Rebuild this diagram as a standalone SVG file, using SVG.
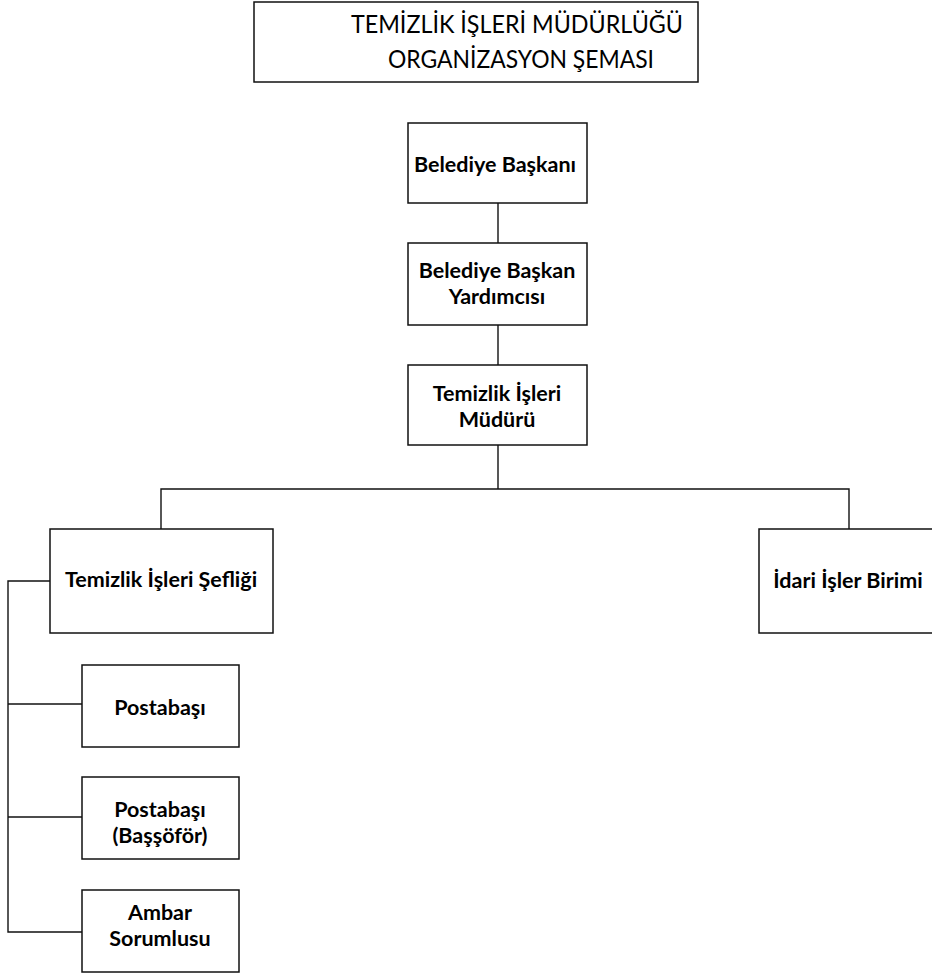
<svg xmlns="http://www.w3.org/2000/svg" width="932" height="978" viewBox="0 0 932 978">
<style>
.box{fill:#fff;stroke:#111;stroke-width:1.5}
.t{font-family:Lato,"Open Sans","Liberation Sans",sans-serif;font-weight:700;font-size:21.5px;fill:#000;text-anchor:middle}
.title{font-family:Lato,"Open Sans","Liberation Sans",sans-serif;font-weight:400;font-size:25px;fill:#000}
.c{fill:none;stroke:#111;stroke-width:1.4}
</style>
<rect width="932" height="978" fill="#fff"/>
<g id="title">
<rect class="box" x="254" y="2" width="444" height="80"/>
<text class="title" x="351" y="33" textLength="332" lengthAdjust="spacingAndGlyphs">TEMİZLİK İŞLERİ MÜDÜRLÜĞÜ</text>
<text class="title" x="388" y="68" textLength="266" lengthAdjust="spacingAndGlyphs">ORGANİZASYON ŞEMASI</text>
</g>
<g id="connectors">
<line class="c" x1="498" y1="203" x2="498" y2="243"/>
<line class="c" x1="498" y1="325" x2="498" y2="365"/>
<polyline class="c" points="161,529 161,489 849,489 849,529"/>
<line class="c" x1="498" y1="445" x2="498" y2="489"/>
<polyline class="c" points="50,581 8,581 8,932 82,932"/>
<line class="c" x1="8" y1="704" x2="82" y2="704"/>
<line class="c" x1="8" y1="817" x2="82" y2="817"/>
</g>
<g id="baskan">
<rect class="box" x="408" y="123" width="179" height="80"/>
<text class="t" x="495" y="172">Belediye Başkanı</text>
</g>
<g id="yardimci">
<rect class="box" x="408" y="243" width="179" height="82"/>
<text class="t" x="497" y="278">Belediye Başkan</text>
<text class="t" x="497" y="304">Yardımcısı</text>
</g>
<g id="mudur">
<rect class="box" x="408" y="365" width="179" height="80"/>
<text class="t" x="497" y="401">Temizlik İşleri</text>
<text class="t" x="497" y="427">Müdürü</text>
</g>
<g id="seflik">
<rect class="box" x="50" y="529" width="223" height="104"/>
<text class="t" x="161" y="587">Temizlik İşleri Şefliği</text>
</g>
<g id="idari">
<rect class="box" x="759" y="529" width="200" height="104"/>
<text class="t" x="848" y="588">İdari İşler Birimi</text>
</g>
<g id="postabasi">
<rect class="box" x="82" y="665" width="157" height="82"/>
<text class="t" x="160" y="715">Postabaşı</text>
</g>
<g id="bassofor">
<rect class="box" x="82" y="777" width="157" height="82"/>
<text class="t" x="160" y="817">Postabaşı</text>
<text class="t" x="160" y="843">(Başşöför)</text>
</g>
<g id="ambar">
<rect class="box" x="82" y="890" width="157" height="82"/>
<text class="t" x="160" y="920">Ambar</text>
<text class="t" x="160" y="946">Sorumlusu</text>
</g>
</svg>
